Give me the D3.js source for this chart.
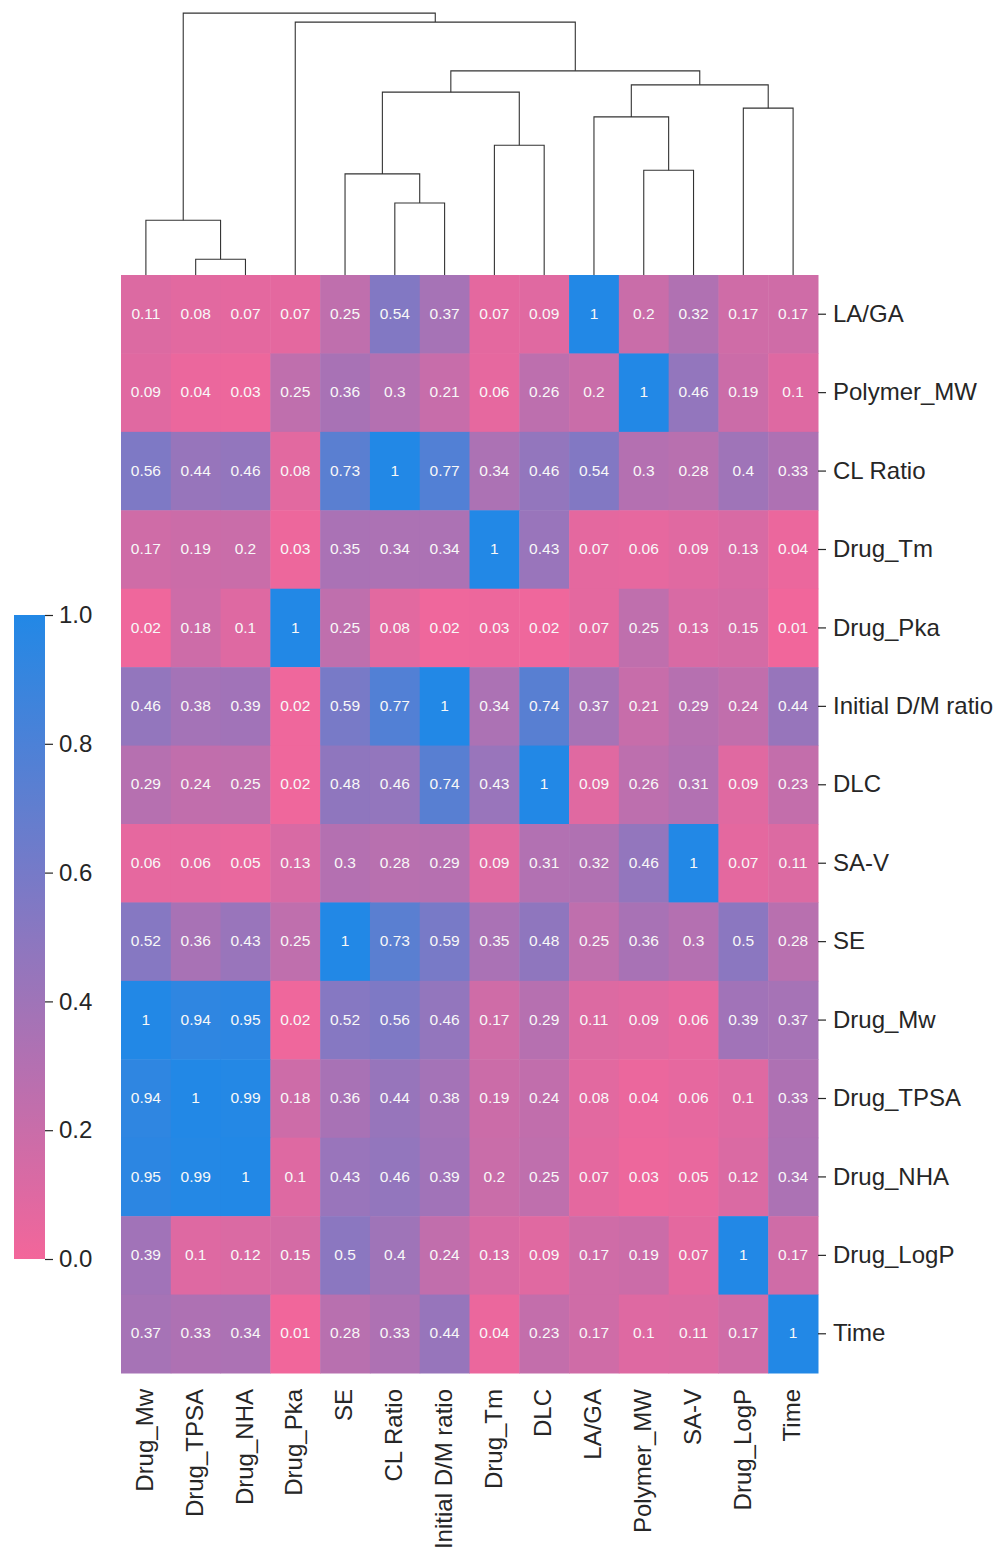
<!DOCTYPE html>
<html>
<head>
<meta charset="utf-8">
<script src="https://cdn.jsdelivr.net/npm/d3@7"></script>
<style>
  body { margin: 0; background: #fff; }
  text { font-family: "Liberation Sans", Arial, sans-serif; }
</style>
</head>
<body>
<script>
// column order (after clustering) and row order
const cols = ['Drug_Mw', 'Drug_TPSA', 'Drug_NHA', 'Drug_Pka', 'SE', 'CL Ratio', 'Initial D/M ratio',
  'Drug_Tm', 'DLC', 'LA/GA', 'Polymer_MW', 'SA-V', 'Drug_LogP', 'Time'];
const rows = ['LA/GA', 'Polymer_MW', 'CL Ratio', 'Drug_Tm', 'Drug_Pka', 'Initial D/M ratio', 'DLC',
  'SA-V', 'SE', 'Drug_Mw', 'Drug_TPSA', 'Drug_NHA', 'Drug_LogP', 'Time'];

const values = [
  [0.11, 0.08, 0.07, 0.07, 0.25, 0.54, 0.37, 0.07, 0.09, 1, 0.2, 0.32, 0.17, 0.17],
  [0.09, 0.04, 0.03, 0.25, 0.36, 0.3, 0.21, 0.06, 0.26, 0.2, 1, 0.46, 0.19, 0.1],
  [0.56, 0.44, 0.46, 0.08, 0.73, 1, 0.77, 0.34, 0.46, 0.54, 0.3, 0.28, 0.4, 0.33],
  [0.17, 0.19, 0.2, 0.03, 0.35, 0.34, 0.34, 1, 0.43, 0.07, 0.06, 0.09, 0.13, 0.04],
  [0.02, 0.18, 0.1, 1, 0.25, 0.08, 0.02, 0.03, 0.02, 0.07, 0.25, 0.13, 0.15, 0.01],
  [0.46, 0.38, 0.39, 0.02, 0.59, 0.77, 1, 0.34, 0.74, 0.37, 0.21, 0.29, 0.24, 0.44],
  [0.29, 0.24, 0.25, 0.02, 0.48, 0.46, 0.74, 0.43, 1, 0.09, 0.26, 0.31, 0.09, 0.23],
  [0.06, 0.06, 0.05, 0.13, 0.3, 0.28, 0.29, 0.09, 0.31, 0.32, 0.46, 1, 0.07, 0.11],
  [0.52, 0.36, 0.43, 0.25, 1, 0.73, 0.59, 0.35, 0.48, 0.25, 0.36, 0.3, 0.5, 0.28],
  [1, 0.94, 0.95, 0.02, 0.52, 0.56, 0.46, 0.17, 0.29, 0.11, 0.09, 0.06, 0.39, 0.37],
  [0.94, 1, 0.99, 0.18, 0.36, 0.44, 0.38, 0.19, 0.24, 0.08, 0.04, 0.06, 0.1, 0.33],
  [0.95, 0.99, 1, 0.1, 0.43, 0.46, 0.39, 0.2, 0.25, 0.07, 0.03, 0.05, 0.12, 0.34],
  [0.39, 0.1, 0.12, 0.15, 0.5, 0.4, 0.24, 0.13, 0.09, 0.17, 0.19, 0.07, 1, 0.17],
  [0.37, 0.33, 0.34, 0.01, 0.28, 0.33, 0.44, 0.04, 0.23, 0.17, 0.1, 0.11, 0.17, 1]
];

// column linkage: [left, right, distance]; leaves are column indices, node n+k is merge k
const linkage = [
  [1, 2, 0.157],
  [0, 14, 0.547],
  [5, 6, 0.72],
  [4, 16, 1.01],
  [7, 8, 1.297],
  [17, 18, 1.827],
  [10, 11, 1.047],
  [9, 20, 1.58],
  [12, 13, 1.667],
  [21, 22, 1.90],
  [19, 23, 2.04],
  [3, 24, 2.527],
  [15, 25, 2.617]
];

const cbarTicks = [0, 0.2, 0.4, 0.6, 0.8, 1.0];

const W = 1000, H = 1551;
const hm = { left: 121, right: 818, top: 275, bottom: 1373 };
const cb = { left: 14, right: 45, top: 615, bottom: 1259 };
const labelFont = 24;

const svg = d3.select('body').append('svg')
  .attr('width', W)
  .attr('height', H);

const x = d3.scaleBand().domain(cols).range([hm.left, hm.right]).padding(0);
const y = d3.scaleBand().domain(rows).range([hm.top, hm.bottom]).padding(0);
const color = d3.scaleLinear().domain([0, 1]).range(['#f3669a', '#2288e6'])
  .interpolate(d3.interpolateRgb).clamp(true);

// cells
const cells = [];
rows.forEach((r, i) => cols.forEach((c, j) => cells.push({ r, c, v: values[i][j] })));

svg.append('g').selectAll('rect')
  .data(cells)
  .join('rect')
  .attr('x', d => x(d.c))
  .attr('y', d => y(d.r))
  .attr('width', x.bandwidth() + 0.5)
  .attr('height', y.bandwidth() + 0.5)
  .attr('fill', d => color(d.v));

svg.append('g').selectAll('text')
  .data(cells)
  .join('text')
  .attr('x', d => x(d.c) + x.bandwidth() / 2)
  .attr('y', d => y(d.r) + y.bandwidth() / 2)
  .attr('text-anchor', 'middle')
  .attr('dy', '0.3em')
  .attr('font-size', 15.5)
  .attr('fill', '#f8f8f8')
  .text(d => d3.format('~g')(d.v));

// right axis (row labels)
const yAxis = svg.append('g')
  .attr('transform', `translate(${hm.right},0)`)
  .call(d3.axisRight(y).tickSize(8).tickPadding(7));
yAxis.select('.domain').remove();
yAxis.selectAll('line').attr('stroke', '#262626').attr('stroke-width', 1.2);
yAxis.selectAll('text').attr('font-size', labelFont).attr('fill', '#262626')
  .style('font-family', '"Liberation Sans", Arial, sans-serif');

// bottom axis (column labels, rotated)
const xAxis = svg.append('g')
  .attr('transform', `translate(0,${hm.bottom})`)
  .call(d3.axisBottom(x).tickSize(0).tickPadding(0));
xAxis.select('.domain').remove();
xAxis.selectAll('text')
  .attr('font-size', labelFont).attr('fill', '#262626')
  .style('font-family', '"Liberation Sans", Arial, sans-serif')
  .attr('text-anchor', 'end')
  .attr('transform', 'rotate(-90)')
  .attr('x', -16)
  .attr('y', 0)
  .attr('dy', '0.3em');

// dendrogram
const maxD = d3.max(linkage, d => d[2]);
const dy = d3.scaleLinear().domain([0, maxD * 1.05]).range([hm.top, 0]);
const nodeX = cols.map(c => x(c) + x.bandwidth() / 2);
const nodeH = cols.map(() => 0);
const segs = [];
linkage.forEach(([a, b, d]) => {
  const xa = nodeX[a], xb = nodeX[b];
  segs.push([[xa, dy(nodeH[a])], [xa, dy(d)], [xb, dy(d)], [xb, dy(nodeH[b])]]);
  nodeX.push((xa + xb) / 2);
  nodeH.push(d);
});
svg.append('g').selectAll('path')
  .data(segs)
  .join('path')
  .attr('d', d3.line())
  .attr('fill', 'none')
  .attr('stroke', '#333')
  .attr('stroke-width', 1.1);

// colorbar
const defs = svg.append('defs');
const grad = defs.append('linearGradient')
  .attr('id', 'cbar')
  .attr('x1', 0).attr('y1', 1).attr('x2', 0).attr('y2', 0);
d3.range(0, 1.0001, 0.1).forEach(t => {
  grad.append('stop').attr('offset', t).attr('stop-color', color(t));
});
svg.append('rect')
  .attr('x', cb.left).attr('y', cb.top)
  .attr('width', cb.right - cb.left).attr('height', cb.bottom - cb.top)
  .attr('fill', 'url(#cbar)');

const cy = d3.scaleLinear().domain([0, 1]).range([cb.bottom, cb.top]);
const cAxis = svg.append('g')
  .attr('transform', `translate(${cb.right},0)`)
  .call(d3.axisRight(cy).tickValues(cbarTicks).tickFormat(d3.format('.1f')).tickSize(8).tickPadding(6));
cAxis.select('.domain').remove();
cAxis.selectAll('line').attr('stroke', '#262626').attr('stroke-width', 1.2);
cAxis.selectAll('text').attr('font-size', labelFont).attr('fill', '#262626')
  .style('font-family', '"Liberation Sans", Arial, sans-serif');
</script>
</body>
</html>
